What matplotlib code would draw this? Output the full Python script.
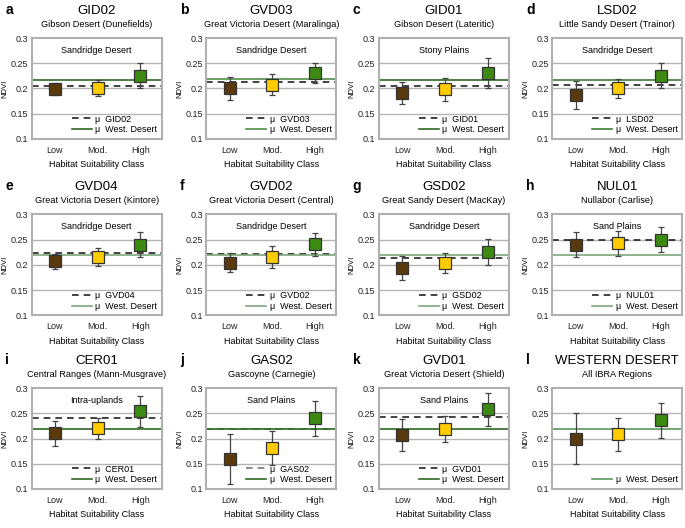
import matplotlib
matplotlib.use("Agg")
import matplotlib.pyplot as plt

plt.rcParams['font.family'] = ['Liberation Sans', 'DejaVu Sans']

clases = ['Low', 'Mod.', 'High']
colores = ['#5a3a0c', '#ffcc00', '#3d8a12']

letras = ['a', 'b', 'c', 'd', 'e', 'f', 'g', 'h', 'i', 'j', 'k', 'l']
codigos = ['GID02', 'GVD03', 'GID01', 'LSD02', 'GVD04', 'GVD02', 'GSD02', 'NUL01',
           'CER01', 'GAS02', 'GVD01', 'WESTERN DESERT']
subtitulos = ['Gibson Desert (Dunefields)', 'Great Victoria Desert (Maralinga)',
              'Gibson Desert (Lateritic)', 'Little Sandy Desert (Trainor)',
              'Great Victoria Desert (Kintore)', 'Great Victoria Desert (Central)',
              'Great Sandy Desert (MacKay)', 'Nullabor (Carlise)',
              'Central Ranges (Mann-Musgrave)', 'Gascoyne (Carnegie)',
              'Great Victoria Desert (Shield)', 'All IBRA Regions']
regiones = ['Sandridge Desert', 'Sandridge Desert', 'Stony Plains', 'Sandridge Desert',
            'Sandridge Desert', 'Sandridge Desert', 'Sandridge Desert', 'Sand Plains',
            'Intra-uplands', 'Sand Plains', 'Sand Plains', '']

# medias NDVI (Low, Mod., High) y desviaciones
medias = [
    [0.198, 0.201, 0.225],
    [0.200, 0.207, 0.231],
    [0.191, 0.198, 0.231],
    [0.187, 0.200, 0.225],
    [0.207, 0.216, 0.240],
    [0.204, 0.215, 0.241],
    [0.194, 0.204, 0.226],
    [0.240, 0.243, 0.250],
    [0.210, 0.220, 0.254],
    [0.159, 0.181, 0.240],
    [0.207, 0.219, 0.258],
    [0.200, 0.208, 0.236],
]
errores = [
    [0.012, 0.016, 0.025],
    [0.023, 0.021, 0.020],
    [0.021, 0.022, 0.030],
    [0.027, 0.019, 0.025],
    [0.015, 0.018, 0.025],
    [0.019, 0.022, 0.023],
    [0.024, 0.020, 0.026],
    [0.025, 0.025, 0.025],
    [0.025, 0.020, 0.031],
    [0.049, 0.033, 0.035],
    [0.031, 0.026, 0.033],
    [0.050, 0.033, 0.035],
]
media_region = [0.205, 0.212, 0.205, 0.206, 0.223, 0.221, 0.213, 0.250, 0.240, 0.219, 0.242, None]
media_desierto = [0.217, 0.218, 0.217, 0.216, 0.219, 0.220, 0.219, 0.219, 0.218, 0.218, 0.218, 0.218]
verde_linea = ['#2e6a22', '#4f8d45', '#2e6a22', '#3f7d35', '#7aa77a', '#7aa77a', '#7aa77a',
               '#7aa77a', '#2e6a22', '#2e6a22', '#2e6a22', '#5e965e']

fig = plt.figure(figsize=(6.85, 5.28), dpi=100)

izquierdas = [0.046, 0.301, 0.553, 0.806]
abajos = [0.737, 0.403, 0.074]
ancho, alto = 0.190, 0.191

for i in range(12):
    fila, col = i // 4, i % 4
    ax = fig.add_axes([izquierdas[col], abajos[fila], ancho, alto])
    x = [0, 1, 2]

    for y in [0.15, 0.2, 0.25]:
        ax.axhline(y, color='#b4b4b4', lw=1.0, zorder=0)

    if media_region[i] is not None:
        ax.axhline(media_region[i], color='#222222' if i != 9 else '#777777',
                   lw=1.2, ls=(0, (4, 3)), zorder=1, label='μ  ' + codigos[i])
    ax.axhline(media_desierto[i], color=verde_linea[i], lw=1.2, zorder=1,
               label='μ  West. Desert')

    for k in range(3):
        ax.errorbar(x[k], medias[i][k], yerr=errores[i][k], fmt='none',
                    ecolor='#444444', elinewidth=0.9, capsize=2, capthick=0.9, zorder=2)
        ax.plot(x[k], medias[i][k], marker='s', ms=8, color=colores[k],
                mec='#333333', mew=0.9, ls='none', zorder=3)

    ax.set_xlim(-0.55, 2.5)
    ax.set_ylim(0.1, 0.3)
    ax.set_yticks([0.1, 0.15, 0.2, 0.25, 0.3])
    ax.set_yticklabels(['0.1', '0.15', '0.2', '0.25', '0.3'])
    ax.set_xticks(x)
    ax.set_xticklabels(clases)
    ax.tick_params(axis='both', length=0, labelsize=6.5, colors='#222222')
    ax.tick_params(axis='x', pad=5)
    ax.tick_params(axis='y', pad=2.5)
    for s in ax.spines.values():
        s.set_color('#b0b0b0')
        s.set_linewidth(1.5)
    ax.set_ylabel('NDVI', fontsize=5.5, labelpad=1.5)
    ax.set_xlabel('Habitat Suitability Class', fontsize=6.5, labelpad=4)

    if regiones[i]:
        ax.text(0.5, 0.88, regiones[i], transform=ax.transAxes, ha='center',
                va='center', fontsize=6.5)

    ax.legend(loc='lower right', frameon=False, fontsize=6.5, handlelength=2.2,
              handletextpad=0.4, labelspacing=0.2, borderaxespad=0.1)

    centro = izquierdas[col] + ancho / 2
    tope = abajos[fila] + alto
    fig.text(centro, tope + 27 / 528, codigos[i], ha='center', va='center', fontsize=9.5)
    fig.text(centro, tope + 14 / 528, subtitulos[i], ha='center', va='center', fontsize=6.6)
    fig.text(izquierdas[col] - 0.038, tope + 28 / 528, letras[i], ha='left',
             va='center', fontsize=10, fontweight='bold')

fig.savefig('out.png', dpi=100)
